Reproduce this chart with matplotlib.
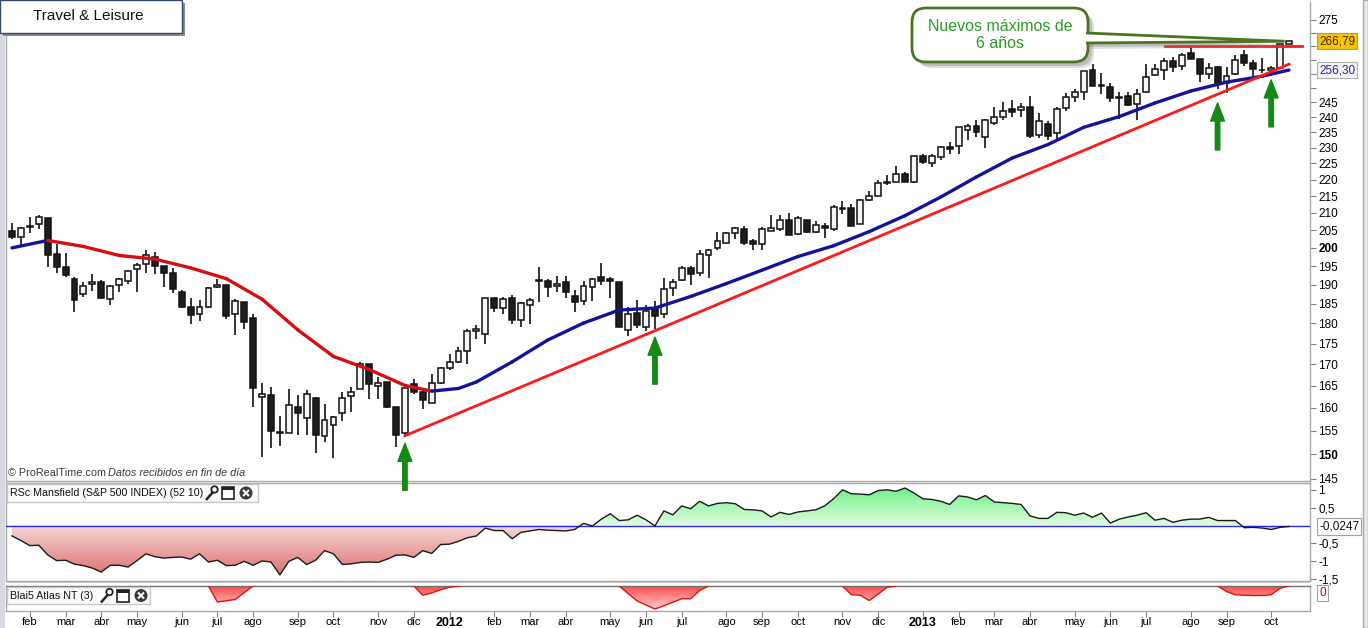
import numpy as np
import pandas as pd
import matplotlib
matplotlib.use('Agg')
import matplotlib.pyplot as plt
import matplotlib.transforms as mtransforms
from matplotlib.patches import FancyBboxPatch, Rectangle, Polygon, Circle
from matplotlib.path import Path
from matplotlib.colors import LinearSegmentedColormap
from matplotlib.ticker import NullLocator, NullFormatter

plt.rcParams['font.family'] = ['Liberation Sans', 'DejaVu Sans']

# ---- weekly candles, Travel & Leisure ----
dates = pd.date_range('2011-01-24', periods=144, freq='W-MON')

opens = [204.9, 203.1, 205.8, 206.7, 208.4, 198.2, 194.7, 191.4, 187.5, 190.1, 190.7, 186.2,
         189.8, 190.9, 194.1, 195.5, 197.5, 194.9, 193.1, 188.0, 184.3, 182.3, 184.2, 189.3,
         189.8, 182.3, 185.4, 181.3, 162.5, 162.8, 154.7, 154.6, 160.1, 157.7, 162.2, 153.8,
         156.2, 158.8, 162.6, 164.2, 170.0, 164.9, 165.8, 160.3, 154.4, 165.4, 163.5, 161.2,
         165.6, 169.1, 170.7, 173.1, 178.0, 177.3, 186.4, 183.8, 186.4, 180.8, 184.6, 191.1,
         191.1, 189.6, 190.6, 186.9, 185.6, 189.3, 192.0, 191.4, 190.6, 178.3, 182.6, 179.0,
         183.6, 182.3, 189.0, 191.2, 194.4, 193.0, 197.9, 200.1, 201.5, 204.1, 205.2, 201.8,
         201.0, 204.9, 205.2, 207.8, 203.8, 207.8, 204.4, 206.1, 205.2, 211.2, 211.3, 206.7,
         213.7, 214.9, 218.8, 219.4, 221.6, 219.1, 227.2, 225.0, 227.0, 230.1, 230.4, 235.6,
         236.9, 233.3, 238.0, 239.9, 242.7, 242.4, 243.4, 234.0, 237.6, 234.6, 243.0, 246.9,
         248.4, 256.3, 250.9, 250.2, 246.8, 247.3, 244.3, 248.7, 254.5, 256.3, 259.6, 257.7,
         262.3, 260.1, 254.8, 257.3, 251.6, 254.9, 261.6, 258.9, 256.4, 256.3, 257.0, 265.8]
highs = [207.0, 206.0, 208.7, 209.4, 208.6, 201.0, 198.5, 192.1, 190.8, 192.8, 191.2, 189.9,
         191.8, 193.9, 195.9, 199.4, 198.9, 194.9, 194.5, 188.6, 186.4, 186.0, 189.5, 191.5,
         189.8, 186.2, 185.4, 182.4, 165.6, 164.8, 158.2, 164.2, 162.8, 164.0, 162.5, 160.9,
         158.2, 163.7, 164.7, 170.7, 170.0, 167.0, 165.8, 160.3, 164.4, 166.5, 164.0, 167.8,
         169.3, 172.5, 174.1, 178.7, 179.5, 186.4, 186.4, 186.7, 187.2, 185.5, 186.4, 194.7,
         191.4, 192.2, 192.4, 188.5, 191.1, 191.7, 195.7, 192.0, 190.6, 184.1, 185.9, 184.6,
         185.6, 191.7, 191.4, 195.1, 195.1, 199.3, 199.6, 204.4, 204.4, 205.8, 206.1, 202.4,
         205.8, 209.3, 209.3, 210.1, 209.0, 207.8, 207.5, 207.0, 212.2, 213.4, 212.6, 214.0,
         216.5, 219.8, 221.3, 224.1, 222.2, 227.5, 227.9, 227.9, 230.4, 231.7, 236.6, 237.6,
         239.0, 239.3, 243.3, 245.0, 245.7, 244.7, 247.1, 241.3, 238.7, 243.5, 248.1, 249.5,
         255.9, 258.3, 255.1, 251.6, 248.7, 248.7, 249.5, 258.3, 258.3, 260.5, 261.1, 262.3,
         264.8, 260.1, 258.7, 257.8, 257.5, 261.6, 263.7, 259.9, 260.5, 257.7, 265.8, 267.0]
lows = [202.4, 200.5, 204.1, 205.2, 194.8, 193.2, 192.1, 183.0, 186.7, 188.4, 186.3, 184.8,
        188.1, 190.3, 188.1, 193.2, 192.8, 189.5, 187.9, 184.0, 179.9, 180.7, 184.0, 189.0,
        181.0, 177.2, 178.7, 160.3, 149.5, 151.4, 151.7, 154.5, 154.1, 154.1, 150.2, 152.6,
        149.3, 157.2, 159.0, 164.2, 161.9, 161.9, 159.9, 151.6, 153.9, 163.1, 159.7, 161.0,
        165.4, 168.8, 170.3, 170.0, 176.1, 175.0, 183.0, 182.5, 179.8, 179.2, 179.9, 185.4,
        186.8, 188.0, 186.4, 183.0, 184.6, 185.6, 189.8, 186.4, 179.0, 177.0, 178.8, 178.0,
        178.5, 181.3, 187.0, 190.9, 189.8, 192.2, 191.7, 199.3, 201.3, 202.4, 200.7, 199.3,
        199.3, 204.9, 204.9, 203.5, 203.5, 204.1, 204.1, 202.7, 204.9, 209.6, 206.1, 206.7,
        213.4, 214.9, 218.2, 219.1, 219.1, 218.8, 224.7, 223.8, 226.0, 228.0, 228.0, 232.4,
        233.3, 229.8, 237.4, 239.0, 239.9, 239.9, 233.0, 233.0, 232.5, 232.5, 242.1, 245.2,
        245.8, 250.7, 248.0, 245.2, 239.4, 243.9, 239.1, 248.1, 254.1, 252.8, 255.7, 256.3,
        260.1, 252.1, 253.0, 249.5, 248.3, 254.4, 257.7, 254.3, 255.4, 254.0, 257.0, 265.6]
closes = [203.1, 205.5, 206.2, 208.7, 197.9, 194.7, 192.5, 185.9, 189.7, 190.7, 186.6, 189.6,
          191.4, 193.6, 195.3, 197.9, 195.1, 193.0, 188.8, 184.2, 182.1, 184.3, 189.0, 189.9,
          181.8, 185.7, 180.3, 164.4, 163.1, 154.9, 154.4, 160.6, 158.8, 163.1, 154.0, 157.3,
          157.9, 162.2, 163.5, 170.0, 165.4, 165.6, 160.3, 154.0, 164.4, 163.5, 161.7, 165.6,
          169.1, 170.7, 173.1, 178.0, 178.5, 186.4, 183.8, 186.2, 180.8, 185.1, 185.9, 191.2,
          189.3, 190.3, 188.2, 185.4, 189.6, 191.4, 190.9, 190.9, 179.0, 182.3, 179.5, 183.1,
          181.8, 188.8, 190.6, 194.4, 192.8, 198.2, 199.3, 201.8, 204.1, 205.5, 201.5, 201.0,
          205.2, 205.5, 207.8, 203.5, 208.4, 204.4, 206.4, 205.5, 211.6, 211.3, 206.1, 213.7,
          214.9, 218.8, 219.4, 221.6, 219.4, 227.2, 225.3, 227.2, 230.1, 229.5, 236.6, 236.9,
          235.0, 238.9, 239.9, 242.0, 241.7, 243.4, 233.7, 238.6, 233.7, 242.6, 246.9, 248.4,
          255.9, 250.7, 250.7, 246.4, 246.6, 244.1, 247.8, 253.7, 256.5, 259.6, 257.3, 261.6,
          260.1, 254.8, 257.1, 251.2, 254.2, 259.9, 258.7, 256.5, 256.2, 257.2, 265.8, 266.79]

# moving average read every few weeks (week index, value)
ma_week = [0, 4, 8, 12, 16, 20, 24, 28, 32, 36, 40, 44, 47, 50, 52, 56, 60, 64, 68,
           72, 76, 80, 84, 88, 92, 96, 100, 104, 108, 112, 116, 120, 124, 128, 132, 136, 140, 143]
ma_vals = [200.0, 202.1, 200.4, 197.9, 196.9, 194.5, 191.6, 186.2, 178.4, 171.9, 168.8, 165.1,
           163.8, 164.4, 165.9, 170.6, 175.9, 180.1, 183.4, 183.9, 186.9, 190.3, 193.9, 197.6,
           200.6, 204.6, 209.2, 214.7, 220.8, 226.7, 231.0, 236.6, 240.2, 244.8, 248.9, 252.0,
           254.1, 256.30]

# RSc Mansfield vs S&P 500
rsc = [-0.29, -0.42, -0.56, -0.55, -0.82, -0.98, -0.97, -1.08, -1.12, -1.19, -1.30, -1.11,
       -1.11, -1.16, -0.98, -0.79, -0.87, -0.91, -0.89, -0.88, -0.94, -0.79, -1.02, -0.97,
       -1.12, -1.11, -1.00, -1.11, -0.99, -1.02, -1.38, -1.00, -0.89, -1.09, -0.97, -0.70,
       -0.79, -1.09, -1.07, -1.03, -1.02, -1.03, -0.94, -0.83, -0.82, -0.89, -0.70, -0.78,
       -0.53, -0.52, -0.44, -0.34, -0.29, -0.07, -0.14, -0.14, -0.37, -0.19, -0.15, -0.11,
       -0.13, -0.14, -0.15, -0.11, 0.06, -0.01, 0.18, 0.33, 0.14, 0.16, 0.29, 0.16,
       -0.01, 0.41, 0.30, 0.55, 0.47, 0.68, 0.55, 0.62, 0.64, 0.61, 0.45, 0.44,
       0.41, 0.24, 0.37, 0.31, 0.38, 0.41, 0.44, 0.55, 0.75, 1.00, 0.89, 0.88,
       0.86, 0.98, 1.00, 0.96, 1.05, 0.91, 0.75, 0.73, 0.68, 0.59, 0.83, 0.80,
       0.72, 0.84, 0.66, 0.64, 0.62, 0.59, 0.27, 0.20, 0.20, 0.37, 0.36, 0.29,
       0.35, 0.23, 0.35, 0.07, 0.18, 0.24, 0.29, 0.36, 0.15, 0.20, 0.09, 0.15,
       0.18, 0.18, 0.23, 0.14, 0.14, 0.14, -0.06, -0.05, -0.07, -0.11, -0.05, -0.0247]

# Blai5 Atlas NT: only the negative dips are visible (first week index: values)
atlas_dips = {23: [-0.64, -0.59, -0.54, -0.27],
              46: [-0.37, -0.28, -0.15, -0.05],
              69: [-0.30, -0.60, -0.76, -0.92, -0.79, -0.65, -0.51, -0.51, -0.18],
              94: [-0.35, -0.37, -0.58, -0.32, -0.05],
              136: [-0.22, -0.35, -0.37, -0.38, -0.38, -0.35, -0.09]}

# drawn annotations
trend_week = [44, 143]
trend_val = [153.9, 258.4]
resist_week = [129.1, 144.5]
resist_val = [265.0, 265.0]
arrow_week = [44, 72, 135, 141]
arrow_tip = [152.3, 176.6, 244.8, 252.8]

month_names = ['ene', 'feb', 'mar', 'abr', 'may', 'jun', 'jul', 'ago', 'sep', 'oct', 'nov', 'dic']

opens, highs, lows, closes = map(np.array, (opens, highs, lows, closes))
rsc = np.array(rsc)
atlas = np.zeros(len(closes))
for start, vals in atlas_dips.items():
    atlas[start:start + len(vals)] = vals
x = np.arange(len(closes))

W, H = 1368, 628
fig = plt.figure(figsize=(W / 100, H / 100), dpi=100)
tp = mtransforms.Affine2D().scale(1, -1).translate(0, H)  # image pixels -> display


def rect(l, t, r, b):
    return [l / W, 1 - b / H, (r - l) / W, (b - t) / H]


ax = fig.add_axes(rect(6, 2, 1310, 481))
ax_rs = fig.add_axes(rect(6, 483, 1310, 581), sharex=ax)
ax_at = fig.add_axes(rect(6, 586, 1310, 611), sharex=ax)
ax.set_zorder(3)

grey = '#a8a8a8'
for a in (ax, ax_rs, ax_at):
    for s in a.spines.values():
        s.set_color(grey)
        s.set_linewidth(1)
ax.spines['top'].set_visible(False)
ax_at.spines['top'].set_color('#707070')

# ---- candles ----
ax.set_yscale('log')
up = closes >= opens
ax.vlines(x, lows, highs, color='#111111', lw=1.2, zorder=3)
lo = np.minimum(opens, closes)
hi = np.maximum(opens, closes)
ax.bar(x, hi - lo, bottom=lo, width=0.66, color=np.where(up, '#f6f6f6', '#1e1e1e'),
       edgecolor='#111111', lw=1.1, zorder=4)

# moving average, red while falling, blue while rising
for k in range(len(ma_week) - 1):
    c = '#d40f0f' if ma_vals[k + 1] < ma_vals[k] else '#14149a'
    ax.plot(ma_week[k:k + 2], ma_vals[k:k + 2], color=c, lw=2.4,
            solid_capstyle='round', zorder=5)

ax.plot(trend_week, trend_val, color='#ff1a1a', lw=2, zorder=5)
ax.plot(resist_week, resist_val, color='#ff1a1a', lw=2, zorder=5)

for w, p in zip(arrow_week, arrow_tip):
    ax.annotate('', xy=(w, p), xytext=(0, -47), textcoords='offset pixels',
                annotation_clip=False,
                arrowprops=dict(arrowstyle='simple,head_width=1.0,head_length=1.3,tail_width=0.32',
                                color='#148a14', mutation_scale=10, shrinkA=0, shrinkB=0))

ax.set_ylim(144.5, 281.8)
pticks = np.arange(145, 280, 5)
plabels = ['' if 250 <= t <= 270 else str(t) for t in pticks]
ax.yaxis.tick_right()
ax.set_yticks(pticks, plabels)
ax.yaxis.set_minor_locator(NullLocator())
ax.yaxis.set_minor_formatter(NullFormatter())
for t in ax.get_yticklabels():
    if t.get_text() in ('150', '200'):
        t.set_fontweight('bold')
ax.tick_params(axis='y', length=4, width=0.8, color='#808080', labelsize=8.5, pad=2)
ax.tick_params(axis='x', bottom=False, labelbottom=False)


def fmt(v, nd):
    return f'{v:.{nd}f}'.replace('.', ',')


def value_tag(a, v, text, fc, ec, tc, dy=0):
    a.annotate(text, xy=(1, v), xycoords=('axes fraction', 'data'), xytext=(9, dy),
               textcoords='offset pixels', va='center', ha='left', fontsize=8.5, color=tc,
               annotation_clip=False,
               bbox=dict(boxstyle='square,pad=0.18', fc=fc, ec=ec, lw=0.8))


value_tag(ax, closes[-1], fmt(closes[-1], 2), '#f6c400', '#9a9a9a', '#3a3000')
value_tag(ax, ma_vals[-1], fmt(ma_vals[-1], 2), '#f2f2f2', '#b0b0b0', '#2525a0')


# ---- gradient areas ----
def gradient_fill(a, xs, ys, positive, c_zero, c_edge, edge):
    mask = ys >= 0 if positive else ys <= 0
    coll = a.fill_between(xs, ys, 0, where=mask, interpolate=True, lw=0, facecolor='none')
    paths = [p for p in coll.get_paths() if len(p.vertices)]
    coll.remove()
    if not paths:
        return
    clip = Path.make_compound_path(*paths)
    if positive:
        cmap = LinearSegmentedColormap.from_list('g', [c_zero, c_edge])
        y0, y1 = 0, edge
    else:
        cmap = LinearSegmentedColormap.from_list('g', [c_edge, c_zero])
        y0, y1 = edge, 0
    grad = np.linspace(0, 1, 200).reshape(-1, 1)
    im = a.imshow(grad, extent=[xs[0] - 1, xs[-1] + 1, y0, y1], origin='lower', aspect='auto',
                  cmap=cmap, zorder=2, interpolation='bilinear')
    im.set_clip_path(clip, transform=a.transData)


gradient_fill(ax_rs, x, rsc, True, '#e4fde4', '#5ef07a', 1.19)
gradient_fill(ax_rs, x, rsc, False, '#f6d8d8', '#d96464', -1.55)
ax_rs.axhline(0, color='#2a2ae6', lw=1, zorder=3)
ax_rs.plot(x, rsc, color='#1a1a1a', lw=1, zorder=4)
ax_rs.set_ylim(-1.55, 1.19)
ax_rs.yaxis.tick_right()
ax_rs.set_yticks([1, 0.5, -0.5, -1, -1.5], ['1', '0,5', '-0,5', '-1', '-1,5'])
ax_rs.tick_params(axis='y', length=4, width=0.8, color='#808080', labelsize=8.5, pad=2)
ax_rs.tick_params(axis='x', bottom=False, labelbottom=False)
value_tag(ax_rs, rsc[-1], fmt(rsc[-1], 4), 'white', '#a0a0a0', '#111111')

gradient_fill(ax_at, x, atlas, False, '#ff4c4c', '#ffd8d8', -1.0)
neg = atlas < 0
vis = neg | np.roll(neg, 1) | np.roll(neg, -1)
ax_at.plot(x, np.where(vis, atlas, np.nan), color='#e01010', lw=1, zorder=4)
ax_at.set_ylim(-1.0, 0.0)
ax_at.set_yticks([])
value_tag(ax_at, 0, '0', 'white', '#a0a0a0', '#dd0000', dy=-7)

# month ticks at the first week of each month
tick_idx = [i for i in range(1, len(dates)) if dates[i].month != dates[i - 1].month]
tick_lab = [str(dates[i].year) if dates[i].month == 1 else month_names[dates[i].month - 1]
            for i in tick_idx]
ax_at.set_xticks(tick_idx, tick_lab)
ax_at.tick_params(axis='x', length=4, width=0.8, color='#808080', labelsize=8, pad=0.5)
for t in ax_at.get_xticklabels():
    if t.get_text().isdigit():
        t.set_fontweight('bold')
        t.set_fontsize(9)

ax.set_xlim(-0.67, 145.35)


# ---- decorations in image pixel coordinates ----
def add(p, z=10):
    p.set_transform(tp)
    p.set_zorder(z)
    fig.add_artist(p)
    return p


def ptext(px, py, s, **kw):
    return fig.text(px, py, s, transform=tp, zorder=kw.pop('zorder', 12), **kw)


add(Rectangle((0, 0), 5, H, fc='#d6dade', ec='none'))
add(Rectangle((1363, 0), 5, H, fc='#e6e8ea', ec='#a8a8a8', lw=1))
add(Rectangle((6, 582), 1304, 1, fc='#c8c8c8', ec='none'))

# title
add(Rectangle((3, 3), 182, 33, fc='#8a8a8a', ec='none'))
add(Rectangle((0, 0), 182, 33, fc='white', ec='#34476b', lw=1))
ptext(33, 16, 'Travel & Leisure', fontsize=11, color='#111111', va='center')

ptext(8, 473, '© ProRealTime.com', fontsize=7.8, color='#3a3a3a', va='center')
ptext(108, 473, 'Datos recibidos en fin de día', fontsize=7.8,
      color='#3a3a3a', va='center', style='italic')


def panel_label(left, top, right, bottom, text, icon_x):
    add(Rectangle((left, top), right - left, bottom - top, fc='#fafafa', ec='#c8c8c8', lw=1))
    cy = (top + bottom) / 2
    ptext(left + 3, cy + 0.5, text, fontsize=7.7, color='#111111', va='center')
    # wrench
    add(Polygon([(icon_x, cy + 7), (icon_x + 7, cy - 1)], closed=False, fill=False,
                ec='#222222', lw=1.8))
    add(Circle((icon_x + 8.5, cy - 3.5), 3.2, fc='none', ec='#222222', lw=1.3))
    # window
    add(Rectangle((icon_x + 16, cy - 6), 12, 12, fc='white', ec='#222222', lw=1.2))
    add(Rectangle((icon_x + 16, cy - 6), 12, 3, fc='#222222', ec='none'))
    # close
    cx = icon_x + 40
    add(Circle((cx, cy), 6.5, fc='#3a3a3a', ec='none'))
    add(Polygon([(cx - 3, cy - 3), (cx + 3, cy + 3)], closed=False, ec='white', lw=1.5))
    add(Polygon([(cx - 3, cy + 3), (cx + 3, cy - 3)], closed=False, ec='white', lw=1.5))


panel_label(7, 484, 258, 502, 'RSc Mansfield (S&P 500 INDEX) (52 10)', 206)
panel_label(7, 587, 150, 604, 'Blai5 Atlas NT (3)', 101)

# callout "Nuevos máximos"
tip = ax.transData.transform((x[-1] - 0.5, closes[-1]))
tip_px = (tip[0], H - tip[1])
olive = '#4c7422'
for off, al in ((6, 0.25), (4, 0.35)):
    add(FancyBboxPatch((912 + off, 8 + off), 176, 54, boxstyle='round,pad=0,rounding_size=14',
                       fc='#808080', ec='none', alpha=al))
    add(Polygon([(1086 + off, 33 + off), (tip_px[0] + off, tip_px[1] + off),
                 (1086 + off, 43 + off)], fc='#808080', ec='none', alpha=al))
add(FancyBboxPatch((912, 8), 176, 54, boxstyle='round,pad=0,rounding_size=14',
                   fc='white', ec=olive, lw=2), z=11)
add(Polygon([(1086, 33), tip_px, (1086, 43)], closed=False, fc='white', ec=olive, lw=2), z=11)
ptext(1000, 35, 'Nuevos máximos de\n6 años', fontsize=11.5, color='#2a9a2a',
      ha='center', va='center', linespacing=1.15)

fig.savefig('out.png', dpi=100, facecolor='white')
